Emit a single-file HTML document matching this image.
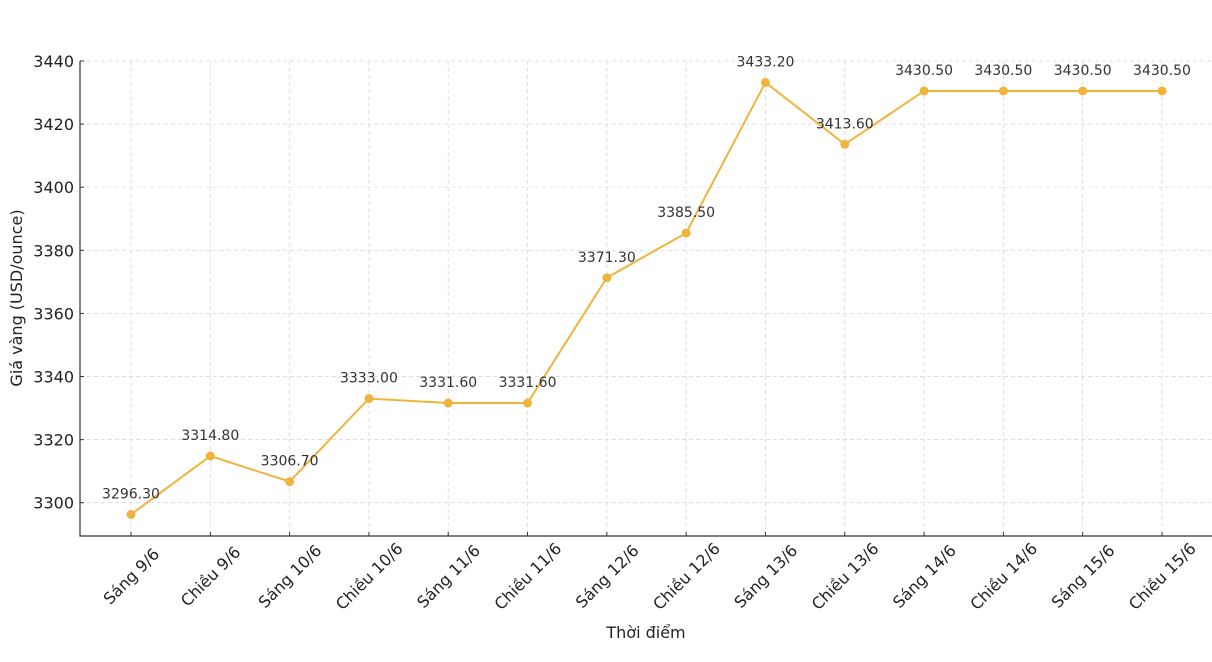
<!DOCTYPE html>
<html><head><meta charset="utf-8"><style>
body{margin:0;background:#fff}
svg{display:block;font-family:"DejaVu Sans","Liberation Sans",sans-serif}
</style></head><body>
<svg id="chart" width="1212" height="662"></svg>
<script>
const categories=["Sáng 9/6","Chiều 9/6","Sáng 10/6","Chiều 10/6","Sáng 11/6","Chiều 11/6","Sáng 12/6","Chiều 12/6","Sáng 13/6","Chiều 13/6","Sáng 14/6","Chiều 14/6","Sáng 15/6","Chiều 15/6"];
const prices=[3296.3,3314.8,3306.7,3333.0,3331.6,3331.6,3371.3,3385.5,3433.2,3413.6,3430.5,3430.5,3430.5,3430.5];
const yTicks=[3300,3320,3340,3360,3380,3400,3420,3440];
const NS="http://www.w3.org/2000/svg";
const svg=document.getElementById('chart');
const L=80,R=1212,T=61,B=536,yMin=3289.46,yMax=3440.0;
const x0=131,dx=(1162-131)/13;
function xs(i){return x0+i*dx;}
function ys(v){return B-(v-yMin)/(yMax-yMin)*(B-T);}
function mk(tag,a,p){const e=document.createElementNS(NS,tag);for(const k in a)e.setAttribute(k,a[k]);(p||svg).appendChild(e);return e;}
const grid=mk('g',{});


yTicks.forEach(v=>{
  const l=mk('line',{x1:L,x2:R,y1:ys(v),y2:ys(v),stroke:'#d4d4d4','stroke-dasharray':'4,3','stroke-width':0.7},grid);
  
  
  const tk=mk('line',{x1:L,x2:L+4,y1:ys(v),y2:ys(v),stroke:'#333'});
  
  
  const t=mk('text',{x:L-6,y:ys(v)+6,'text-anchor':'end','font-size':16,fill:'#222'});
  t.textContent=v;
  
  
});
categories.forEach((c,i)=>{
  const l=mk('line',{x1:xs(i),x2:xs(i),y1:T,y2:B,stroke:'#d4d4d4','stroke-dasharray':'4,3','stroke-width':0.7},grid);
  
  
  const tk=mk('line',{x1:xs(i),x2:xs(i),y1:B,y2:B-4,stroke:'#333'});
  
  
  const cx=xs(i),cy=B+40;
  const t=mk('text',{x:cx,y:cy+6,'text-anchor':'middle','font-size':16,fill:'#222',transform:`rotate(-45 ${cx} ${cy})`});
  t.textContent=c;
  
  
});
const ax=mk('path',{d:`M${L} ${T}V${B}H${R}`,fill:'none',stroke:'#333','stroke-width':1.2});


const line=mk('polyline',{points:prices.map((v,i)=>xs(i)+','+ys(v)).join(' '),fill:'none',stroke:'#f0b43c','stroke-width':2});


prices.forEach((v,i)=>{
  const c=mk('circle',{cx:xs(i),cy:ys(v),r:4.5,fill:'#f0b43c'});
  
  
  const t=mk('text',{x:xs(i),y:ys(v)-16,'text-anchor':'middle','font-size':14,fill:'#333'});
  t.textContent=v.toFixed(2);
  
  
});
const xt=mk('text',{x:646,y:638,'text-anchor':'middle','font-size':16,fill:'#222'});
xt.textContent='Thời điểm';


const yt=mk('text',{x:22,y:298,'text-anchor':'middle','font-size':16,fill:'#222',transform:'rotate(-90 22 298)'});
yt.textContent='Giá vàng (USD/ounce)';


</script>
</body></html>
